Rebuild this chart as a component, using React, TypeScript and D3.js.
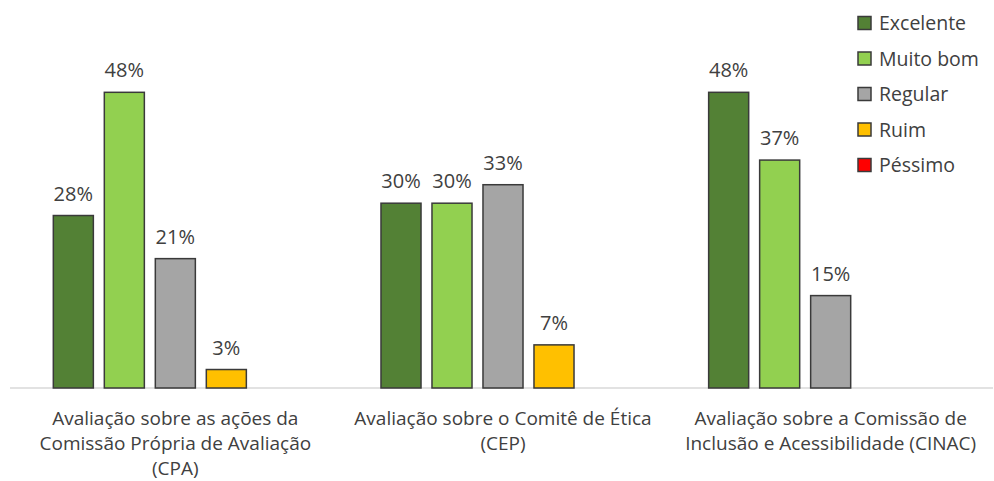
import React from "react";
import * as d3 from "d3";

const categories: string[][] = [
  ["Avaliação sobre as ações da", "Comissão Própria de Avaliação", "(CPA)"],
  ["Avaliação sobre o Comitê de Ética", "(CEP)"],
  ["Avaliação sobre a Comissão de", "Inclusão e Acessibilidade (CINAC)"],
];
const categoryKeys = ["CPA", "CEP", "CINAC"];
const seriesNames = ["Excelente", "Muito bom", "Regular", "Ruim", "Péssimo"];
const seriesColors = ["#538135", "#92D050", "#A5A5A5", "#FFC000", "#FF0000"];
const excelente = [28, 30, 48];
const muitoBom = [48, 30, 37];
const regular = [21, 33, 15];
const ruim = [3, 7, 0];
const pessimo = [0, 0, 0];
const seriesValues = [excelente, muitoBom, regular, ruim, pessimo];

const W = 994;
const H = 481;
const FONT = "'Open Sans', sans-serif";
const TEXT = "#404040";

export default function App() {
  const x0 = d3.scaleBand<string>().domain(categoryKeys).range([11.5, 994.5]).padding(0);
  const x1 = d3
    .scaleBand<string>()
    .domain(seriesNames)
    .range([0, x0.bandwidth()])
    .paddingInner(0.215)
    .paddingOuter(0.82);
  const y = d3.scaleLinear().domain([0, 50]).range([388, 80]);

  return (
    <svg width={W} height={H} style={{ position: "absolute", left: 0, top: 0, background: "#fff" }}>
      <line x1={10} x2={993} y1={y(0)} y2={y(0)} stroke="#d9d9d9" strokeWidth={1.5} />
      {categoryKeys.map((c, ci) => (
        <g key={c} transform={`translate(${x0(c)},0)`}>
          {seriesNames.map((s, si) => {
            const v = seriesValues[si][ci];
            if (!v) return null;
            const bx = x1(s)!;
            return (
              <g key={s}>
                <rect
                  x={bx}
                  y={y(v)}
                  width={x1.bandwidth()}
                  height={y(0) - y(v)}
                  fill={seriesColors[si]}
                  stroke="#3a3a3a"
                  strokeWidth={1.5}
                />
                <text
                  x={bx + x1.bandwidth() / 2}
                  y={y(v) - 15}
                  textAnchor="middle"
                  fontFamily={FONT}
                  fontSize={20}
                  fill={TEXT}
                >
                  {v}%
                </text>
              </g>
            );
          })}
          {categories[ci].map((line, li) => (
            <text
              key={li}
              x={x0.bandwidth() / 2}
              y={425 + li * 25}
              textAnchor="middle"
              fontFamily={FONT}
              fontSize={19}
              fill={TEXT}
            >
              {line}
            </text>
          ))}
        </g>
      ))}
      {seriesNames.map((s, i) => (
        <g key={s} transform={`translate(858,${23 + i * 35.5})`}>
          <rect x={0} y={-6.5} width={13} height={13} fill={seriesColors[i]} stroke="#3a3a3a" strokeWidth={1.5} />
          <text x={21} y={7} fontFamily={FONT} fontSize={19.5} fill={TEXT}>
            {s}
          </text>
        </g>
      ))}
    </svg>
  );
}
